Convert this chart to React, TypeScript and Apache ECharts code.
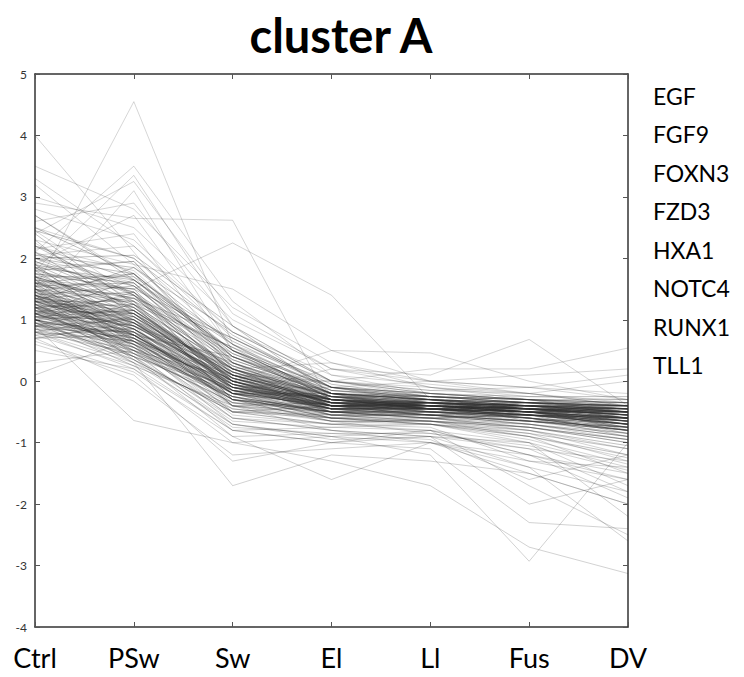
import React, { useEffect, useRef } from "react";
import * as echarts from "echarts";

const categories = ["Ctrl", "PSw", "Sw", "El", "Ll", "Fus", "DV"];
const geneLabels = ["EGF", "FGF9", "FOXN3", "FZD3", "HXA1", "NOTC4", "RUNX1", "TLL1"];
const yMin = -4;
const yMax = 5;

// core profiles
const coreProfiles = [
  [1.3, 0.95, 0.0, -0.35, -0.4, -0.45, -0.5],
  [1.1, 0.75, -0.1, -0.4, -0.45, -0.55, -0.7],
  [1.5, 1.15, 0.1, -0.3, -0.35, -0.4, -0.45],
  [1.0, 0.65, -0.2, -0.5, -0.5, -0.65, -0.8],
  [1.7, 1.25, 0.2, -0.2, -0.3, -0.35, -0.4],
  [1.2, 1.05, 0.05, -0.4, -0.35, -0.5, -0.6],
  [1.4, 0.85, -0.05, -0.3, -0.45, -0.4, -0.5],
  [0.9, 0.55, -0.15, -0.45, -0.55, -0.55, -0.65],
  [1.6, 1.35, 0.3, -0.25, -0.25, -0.35, -0.35],
  [1.35, 1.0, 0.0, -0.4, -0.4, -0.45, -0.55],
  [1.15, 0.8, 0.1, -0.35, -0.45, -0.55, -0.6],
  [1.45, 1.1, -0.1, -0.3, -0.4, -0.45, -0.45],
  [1.05, 0.9, 0.0, -0.45, -0.45, -0.5, -0.75],
  [1.8, 1.45, 0.4, -0.15, -0.25, -0.3, -0.3],
  [1.25, 0.7, -0.2, -0.4, -0.5, -0.6, -0.8],
  [1.55, 1.05, 0.15, -0.25, -0.35, -0.4, -0.4],
  [0.95, 0.6, -0.3, -0.55, -0.55, -0.7, -0.9],
  [1.3, 1.15, 0.1, -0.35, -0.35, -0.45, -0.5],
  [1.65, 0.85, 0.0, -0.4, -0.4, -0.5, -0.6],
  [1.1, 0.95, -0.05, -0.3, -0.45, -0.45, -0.55],
  [1.4, 0.75, -0.15, -0.45, -0.45, -0.55, -0.65],
  [1.2, 1.25, 0.2, -0.25, -0.3, -0.4, -0.45],
  [0.85, 0.5, -0.25, -0.5, -0.6, -0.65, -0.85],
  [1.9, 1.55, 0.5, -0.1, -0.2, -0.25, -0.25],
  [1.35, 0.9, 0.05, -0.4, -0.4, -0.5, -0.5],
  [1.5, 1.3, 0.25, -0.3, -0.35, -0.35, -0.4],
  [1.05, 0.7, -0.1, -0.35, -0.5, -0.55, -0.7],
  [1.75, 1.1, 0.1, -0.2, -0.35, -0.4, -0.45],
  [1.25, 1.0, -0.05, -0.4, -0.4, -0.45, -0.6],
  [1.1, 0.55, -0.3, -0.5, -0.5, -0.6, -0.75],
  [1.6, 1.2, 0.05, -0.3, -0.3, -0.45, -0.5],
  [1.3, 0.8, 0.0, -0.45, -0.45, -0.5, -0.65],
  [0.95, 0.85, -0.2, -0.4, -0.55, -0.6, -0.8],
  [2.0, 1.4, 0.35, -0.2, -0.25, -0.3, -0.35],
  [1.45, 0.95, 0.1, -0.35, -0.35, -0.45, -0.45],
  [1.15, 1.1, -0.1, -0.3, -0.45, -0.5, -0.6],
  [1.7, 1.0, 0.2, -0.25, -0.4, -0.4, -0.5],
  [0.8, 0.45, -0.35, -0.6, -0.65, -0.75, -1.0],
  [1.35, 1.2, 0.0, -0.4, -0.35, -0.4, -0.55],
  [1.55, 0.75, -0.05, -0.35, -0.45, -0.55, -0.7],
  [1.2, 0.9, 0.15, -0.3, -0.4, -0.5, -0.5],
  [1.0, 0.75, -0.15, -0.45, -0.45, -0.55, -0.65],
  [1.85, 1.65, 0.6, -0.15, -0.25, -0.3, -0.35],
  [1.4, 1.05, 0.05, -0.35, -0.4, -0.45, -0.55],
  [1.1, 0.65, -0.25, -0.5, -0.55, -0.65, -0.75],
  [1.65, 1.35, 0.2, -0.25, -0.3, -0.4, -0.4],
  [1.3, 0.85, -0.1, -0.4, -0.45, -0.5, -0.6],
  [0.9, 0.7, -0.05, -0.45, -0.5, -0.6, -0.8],
  [1.5, 0.95, 0.0, -0.3, -0.4, -0.45, -0.45],
  [1.25, 1.1, 0.1, -0.35, -0.35, -0.45, -0.55],
  [2.0, 1.75, 0.5, -0.2, -0.3, -0.35, -0.45],
  [2.1, 1.55, 0.3, -0.3, -0.35, -0.45, -0.5],
  [1.85, 1.15, 0.15, -0.35, -0.4, -0.5, -0.6],
  [0.8, 1.05, 0.1, -0.3, -0.4, -0.45, -0.55],
  [0.7, 0.75, -0.2, -0.45, -0.45, -0.55, -0.7],
  [1.95, 1.3, 0.55, -0.1, -0.3, -0.35, -0.4],
  [1.6, 1.75, 0.45, -0.2, -0.25, -0.3, -0.4],
  [1.4, 1.55, 0.25, -0.25, -0.4, -0.45, -0.5],
  [1.25, 0.45, -0.35, -0.45, -0.45, -0.6, -0.7],
  [1.0, 0.35, -0.5, -0.55, -0.55, -0.65, -0.8],
  [1.75, 1.5, 0.7, -0.05, -0.25, -0.35, -0.4],
  [1.1, 1.4, 0.2, -0.35, -0.4, -0.45, -0.6],
  [1.45, 0.65, -0.3, -0.5, -0.5, -0.55, -0.65],
  [2.05, 1.85, 0.8, 0.0, -0.2, -0.3, -0.35],
  [0.9, 1.0, -0.1, -0.4, -0.45, -0.5, -0.65],
  [1.65, 0.6, -0.15, -0.4, -0.5, -0.55, -0.7],
  [1.35, 1.45, 0.15, -0.3, -0.35, -0.4, -0.45],
  [1.2, 0.3, -0.45, -0.6, -0.6, -0.7, -0.85],
  [1.8, 0.9, 0.05, -0.35, -0.45, -0.45, -0.55],
  [1.05, 1.15, 0.05, -0.3, -0.4, -0.5, -0.5],
  [1.55, 1.6, 0.35, -0.2, -0.3, -0.4, -0.45],
  [1.15, 0.5, -0.2, -0.55, -0.55, -0.65, -0.75],
  [1.9, 1.2, 0.25, -0.25, -0.35, -0.4, -0.5],
  [0.95, 0.25, -0.4, -0.65, -0.65, -0.75, -0.95],
  [1.7, 1.7, 0.65, -0.1, -0.25, -0.35, -0.4],
  [1.3, 0.4, -0.25, -0.5, -0.55, -0.65, -0.75],
  [2.2, 1.65, 0.4, -0.2, -0.35, -0.4, -0.5],
  [1.5, 0.8, -0.2, -0.4, -0.45, -0.5, -0.6],
  [0.85, 0.8, -0.3, -0.5, -0.5, -0.6, -0.8],
  [1.6, 1.1, -0.05, -0.45, -0.4, -0.5, -0.65],
  [1.2, 0.75, -0.15, -0.55, -0.65, -0.8, -1.05],
  [1.0, 0.65, -0.25, -0.6, -0.7, -0.85, -1.1],
  [1.4, 0.95, -0.05, -0.5, -0.6, -0.75, -0.95],
  [1.1, 0.6, -0.3, -0.65, -0.65, -0.9, -1.2],
  [1.3, 0.85, -0.1, -0.45, -0.55, -0.7, -0.9],
];

// irregular profiles that cross the band
const crossingProfiles = [
  [1.7, 0.65, 0.1, -0.5, -0.35, -0.45, -0.7],
  [1.0, 1.45, -0.2, -0.2, -0.5, -0.4, -0.5],
  [2.4, 1.25, 0.0, -0.4, -0.3, -0.55, -0.6],
  [1.3, 1.85, 0.6, -0.3, -0.45, -0.35, -0.45],
  [0.7, 0.95, 0.2, -0.4, -0.35, -0.65, -0.8],
  [1.9, 0.75, -0.2, -0.25, -0.45, -0.45, -0.55],
  [1.5, 0.45, -0.1, -0.5, -0.4, -0.5, -0.4],
  [1.1, 1.65, 0.5, -0.35, -0.3, -0.45, -0.65],
  [2.5, 1.75, 0.1, -0.3, -0.45, -0.4, -0.5],
  [0.9, 1.25, -0.3, -0.4, -0.35, -0.55, -0.6],
  [1.8, 1.95, 0.3, -0.4, -0.4, -0.5, -0.75],
  [1.4, 0.35, -0.5, -0.4, -0.55, -0.45, -0.55],
  [2.3, 1.05, -0.1, -0.45, -0.45, -0.6, -0.7],
  [1.2, 1.35, 0.7, -0.1, -0.35, -0.45, -0.5],
  [1.05, 1.0, -0.4, -0.35, -0.45, -0.4, -0.45],
  [1.6, 0.55, -0.25, -0.6, -0.5, -0.55, -0.6],
  [2.0, 2.05, 0.9, -0.2, -0.3, -0.35, -0.4],
  [1.35, 0.75, 0.4, -0.25, -0.45, -0.5, -0.65],
  [0.8, 0.65, -0.05, -0.55, -0.45, -0.5, -0.5],
  [2.1, 1.15, 0.2, -0.4, -0.4, -0.45, -0.8],
  [1.55, 1.4, -0.15, -0.45, -0.35, -0.4, -0.4],
  [1.15, 0.9, 0.3, -0.2, -0.45, -0.55, -0.7],
  [1.75, 1.6, 0.05, -0.35, -0.5, -0.45, -0.6],
  [0.95, 0.4, -0.15, -0.4, -0.4, -0.6, -0.9],
  [1.45, 1.75, 0.4, -0.25, -0.35, -0.5, -0.5],
  [2.7, 1.65, 0.5, -0.2, -0.4, -0.45, -0.55],
  [1.25, 0.6, 0.0, -0.5, -0.6, -0.55, -0.6],
  [1.65, 1.5, -0.05, -0.4, -0.35, -0.4, -0.45],
  [0.75, 0.85, -0.15, -0.3, -0.45, -0.5, -0.7],
  [1.85, 0.95, -0.2, -0.35, -0.5, -0.55, -0.55],
  [1.3, 1.3, -0.3, -0.45, -0.4, -0.45, -0.65],
  [2.2, 1.4, 0.45, -0.15, -0.3, -0.45, -0.45],
  [1.0, 1.1, 0.15, -0.4, -0.55, -0.5, -0.6],
  [1.5, 0.7, -0.4, -0.5, -0.45, -0.6, -0.75],
  [1.1, 1.15, -0.15, -0.25, -0.4, -0.35, -0.4],
  [1.7, 1.25, 0.55, -0.3, -0.45, -0.55, -0.85],
  [2.45, 2.0, 0.75, -0.1, -0.25, -0.35, -0.5],
  [1.4, 0.5, 0.05, -0.45, -0.55, -0.65, -0.6],
  [0.9, 0.8, -0.35, -0.5, -0.6, -0.55, -0.75],
  [1.95, 1.45, 0.0, -0.35, -0.35, -0.4, -0.5],
];

// profiles with high early expression
const highEarlyProfiles = [
  [2.0, 1.6, 0.3, -0.2, -0.3, -0.35, -0.5],
  [2.2, 1.8, 0.4, -0.1, -0.2, -0.3, -0.4],
  [2.5, 2.0, 0.6, 0.0, -0.1, -0.25, -0.3],
  [2.8, 2.3, 0.8, 0.1, -0.05, -0.2, -0.35],
  [3.0, 2.5, 1.0, 0.2, 0.0, -0.1, -0.2],
  [3.3, 2.2, 0.7, -0.1, -0.2, -0.3, -0.5],
  [3.5, 2.8, 1.2, 0.3, -0.1, -0.2, -0.4],
  [4.0, 2.1, 0.2, -0.3, -0.4, -0.5, -0.7],
  [1.5, 4.55, 0.6, -0.2, -0.3, -0.4, -0.6],
  [2.1, 3.5, 1.3, 0.1, -0.2, -0.3, -0.5],
  [1.8, 3.35, 0.9, 0.0, -0.25, -0.35, -0.45],
  [2.4, 3.25, 1.1, 0.2, -0.1, -0.3, -0.55],
  [1.3, 3.1, 0.5, -0.2, -0.3, -0.4, -0.6],
  [2.9, 2.65, 2.62, -0.4, -0.4, -0.5, -0.7],
  [1.6, 1.5, 2.25, 1.4, -0.3, -0.4, -0.6],
  [2.3, 1.9, 1.5, 0.5, 0.0, -0.1, -0.3],
  [2.6, 2.9, 0.9, 0.0, -0.2, -0.3, -0.45],
  [1.9, 2.7, 0.5, -0.1, -0.3, -0.35, -0.6],
  [2.15, 2.4, 0.3, -0.25, -0.35, -0.4, -0.55],
  [2.7, 1.7, 0.1, -0.3, -0.4, -0.45, -0.5],
  [3.2, 1.9, 0.4, -0.2, -0.3, -0.4, -0.6],
  [2.45, 1.4, 0.0, -0.35, -0.4, -0.5, -0.7],
  [2.05, 2.2, 0.8, 0.0, -0.15, -0.2, -0.4],
  [1.85, 1.95, 0.2, -0.3, -0.35, -0.45, -0.6],
  [2.25, 1.3, -0.1, -0.4, -0.45, -0.5, -0.65],
];

// profiles with high late expression
const highLateProfiles = [
  [1.4, 0.9, 0.0, 0.5, 0.46, 0.0, -0.3],
  [1.2, 0.8, -0.2, 0.2, 0.1, 0.68, -0.4],
  [1.5, 1.0, 0.1, 0.0, 0.2, 0.2, 0.54],
  [1.0, 0.7, -0.1, -0.1, 0.0, 0.1, 0.2],
  [1.3, 1.1, 0.2, 0.3, 0.0, -0.2, 0.0],
  [1.7, 1.2, 0.0, 0.0, -0.15, -0.1, 0.1],
];

// profiles with low expression
const lowProfiles = [
  [0.1, 0.7, -0.2, -0.6, -0.7, -0.8, -1.2],
  [0.3, 0.5, -0.4, -0.8, -0.9, -1.0, -1.4],
  [0.5, 0.2, -0.8, -1.0, -0.8, -1.2, -1.6],
  [0.9, -0.64, -1.0, -0.9, -1.0, -1.2, -1.5],
  [0.7, 0.0, -1.2, -1.1, -1.0, -1.4, -1.8],
  [1.0, 0.3, -1.7, -1.2, -1.3, -1.5, -2.0],
  [0.6, 0.1, -1.3, -1.0, -0.9, -1.1, -1.3],
  [1.1, 0.4, -0.9, -1.6, -1.0, -1.3, -1.6],
  [0.8, 0.2, -1.0, -1.3, -1.7, -2.7, -3.13],
  [1.2, 0.6, -0.7, -0.9, -1.2, -2.93, -1.0],
  [1.0, 0.5, -0.8, -1.0, -1.1, -2.3, -2.4],
  [0.9, 0.4, -0.6, -0.8, -0.9, -2.0, -1.6],
  [1.3, 0.7, -0.5, -0.7, -0.8, -1.7, -2.5],
  [1.1, 0.6, -0.6, -0.8, -1.0, -1.5, -2.0],
  [0.8, 0.3, -0.7, -0.9, -0.8, -1.2, -1.9],
  [1.2, 0.5, -0.5, -0.7, -0.7, -1.0, -1.7],
  [1.4, 0.9, -0.4, -0.6, -0.7, -0.9, -1.5],
  [0.95, 0.45, -0.65, -0.75, -0.8, -1.0, -2.2],
  [1.05, 0.65, -0.55, -0.7, -0.75, -1.3, -1.4],
  [1.25, 0.55, -0.45, -0.65, -0.85, -1.1, -1.8],
  [0.85, 0.35, -0.75, -0.85, -0.95, -1.6, -1.2],
  [1.15, 0.75, -0.5, -0.6, -0.65, -0.85, -1.3],
  [1.35, 0.85, -0.4, -0.55, -0.6, -0.8, -1.1],
  [0.75, 0.25, -0.8, -0.75, -0.7, -0.9, -1.25],
  [1.0, 0.55, -0.6, -0.7, -0.6, -0.75, -1.0],
  [1.45, 0.75, -0.3, -0.65, -0.7, -0.95, -1.35],
  [0.65, 0.15, -0.9, -0.85, -0.85, -1.05, -1.45],
  [1.6, 1.0, -0.2, -0.55, -0.65, -0.7, -0.95],
  [1.2, 0.4, -0.7, -0.95, -0.9, -1.4, -2.6],
];

const FONT = "Lato, 'Noto Sans', sans-serif";

function lineSeries(profiles: number[][], opacity: number, tag: string) {
  return profiles.map((p, i) => ({
    type: "line",
    name: tag + i,
    data: p,
    xAxisIndex: 0,
    yAxisIndex: 0,
    symbol: "none",
    silent: true,
    lineStyle: { color: "#333333", width: 1, opacity },
  }));
}

export default function App() {
  const ref = useRef<HTMLDivElement>(null);
  useEffect(() => {
    if (!ref.current) return;
    const chart = echarts.init(ref.current, null, { renderer: "svg" });
    const axisLine = { show: true, onZero: false, lineStyle: { color: "#333", width: 1.5 } };
    const tick = { show: true, inside: true, length: 5, lineStyle: { color: "#555", width: 1 } };
    chart.setOption({
      animation: false,
      backgroundColor: "#fff",
      title: {
        text: "cluster A",
        left: 336,
        textAlign: "center",
        top: 6,
        textStyle: { fontFamily: FONT, fontWeight: "bold", fontSize: 47, color: "#000" },
      },
      grid: { left: 35, right: 116, top: 74, bottom: 50, containLabel: false },
      xAxis: [
        {
          type: "category",
          data: categories,
          boundaryGap: false,
          position: "bottom",
          axisLine,
          axisTick: { ...tick, alignWithLabel: true },
          axisLabel: { fontFamily: FONT, fontSize: 27, color: "#000", margin: 17 },
          splitLine: { show: false },
        },
        {
          type: "category",
          data: categories,
          boundaryGap: false,
          position: "top",
          axisLine,
          axisTick: { ...tick, alignWithLabel: true },
          axisLabel: { show: false },
          splitLine: { show: false },
        },
      ],
      yAxis: [
        {
          type: "value",
          min: yMin,
          max: yMax,
          interval: 1,
          position: "left",
          axisLine,
          axisTick: tick,
          axisLabel: { fontFamily: FONT, fontSize: 12, color: "#333", margin: 8 },
          splitLine: { show: false },
        },
        {
          type: "value",
          min: yMin,
          max: yMax,
          interval: 1,
          position: "right",
          axisLine,
          axisTick: tick,
          axisLabel: { show: false },
          splitLine: { show: false },
        },
      ],
      graphic: geneLabels.map((g, i) => ({
        type: "text",
        left: 653,
        top: 84 + i * 38.5,
        style: { text: g, fontFamily: FONT, fontSize: 23, fill: "#000" },
        silent: true,
      })),
      series: [
        ...lineSeries(coreProfiles, 0.3, "core"),
        ...lineSeries(crossingProfiles, 0.3, "cross"),
        ...lineSeries(highEarlyProfiles, 0.2, "early"),
        ...lineSeries(highLateProfiles, 0.2, "late"),
        ...lineSeries(lowProfiles, 0.22, "low"),
      ],
    });
    return () => chart.dispose();
  }, []);
  return (
    <div
      ref={ref}
      style={{ position: "fixed", left: 0, top: 0, width: 744, height: 677 }}
    />
  );
}
